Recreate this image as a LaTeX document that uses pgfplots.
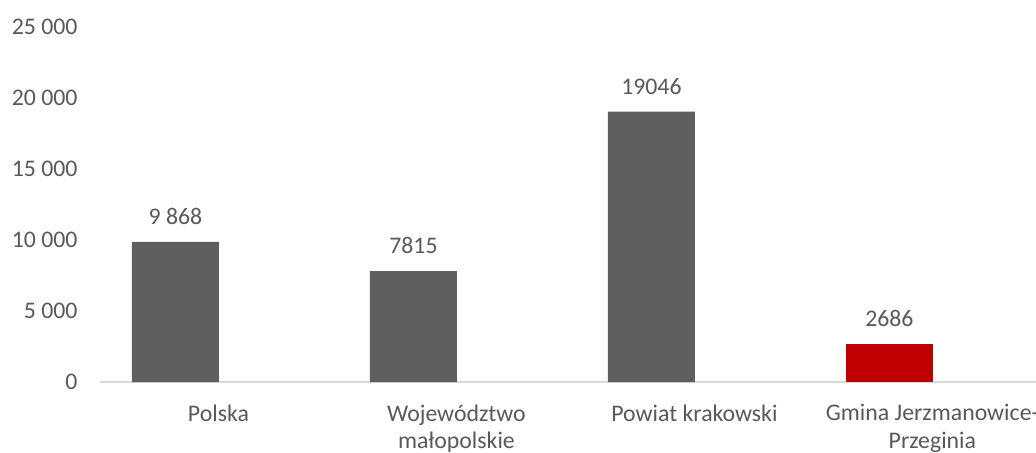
\documentclass[border=0pt]{standalone}
\usepackage{pgfplots}
\pgfplotsset{compat=1.18}
\usepackage{fontspec}
\setmainfont{Carlito}
\definecolor{txt}{HTML}{595959}
\definecolor{bargray}{HTML}{5F5F5F}
\definecolor{barred}{HTML}{C00000}
\definecolor{axgray}{HTML}{D9D9D9}
\newcommand{\lblfont}{\fontsize{23.8bp}{27.5bp}\selectfont}
\begin{document}
\begin{tikzpicture}
\useasboundingbox (0,0) rectangle (1036bp,453bp);
\begin{axis}[
  at={(100bp,71bp)}, anchor=south west,
  scale only axis, width=936bp, height=355bp,
  xmin=-0.317, xmax=3.616, ymin=0, ymax=25000,
  axis line style={draw=none},
  xtick={0,1,2,3},
  xticklabels={Polska,{Województwo\\małopolskie},Powiat krakowski,{Gmina Jerzmanowice-\\Przeginia}},
  xticklabel style={align=center, text=txt, font=\lblfont, xshift=43bp, yshift=-19bp},
  ytick={0,5000,10000,15000,20000,25000},
  yticklabels={0,5~000,10~000,15~000,20~000,25~000},
  scaled y ticks=false,
  yticklabel style={text=txt, font=\lblfont, xshift=-19bp},
  major tick length=0pt,
  tick style={draw=none},
  ybar, bar width=87bp, bar shift=0pt,
  nodes near coords, point meta=explicit symbolic,
  every node near coord/.append style={text=txt, font=\lblfont, anchor=south, yshift=13.5bp},
  clip=false,
]
\draw[axgray, line width=1.2bp] (rel axis cs:0,0) -- (rel axis cs:1,0);
\addplot[fill=bargray, draw=none] coordinates {(0,9868) [9~868] (1,7815) [7815] (2,19046) [19046]};
\addplot[fill=barred, draw=none] coordinates {(3,2686) [2686]};
\end{axis}
\end{tikzpicture}
\end{document}
